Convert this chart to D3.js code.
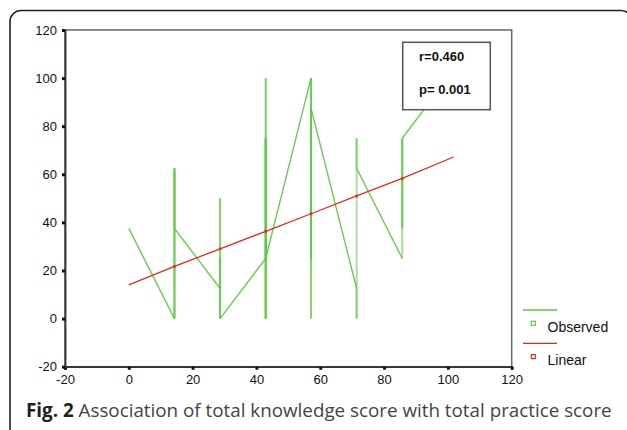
<!DOCTYPE html>
<html>
<head>
<meta charset="utf-8">
<script src="https://cdn.jsdelivr.net/npm/d3@7"></script>
<style>
  body { margin: 0; background: #fff; }
  svg { display: block; }
</style>
</head>
<body>
<div id="chart"></div>
<script>
// knowledge score (x) and practice scores observed at each x, in data order
const knowledge = [0, 14.3, 28.6, 42.9, 57.1, 71.4, 85.7, 100];
const practice = [
  [37.5],
  [0, 62.5, 0, 62.5, 37.5],
  [12.5, 50, 0, 25, 0],
  [25, 100, 0, 75, 0, 75, 25],
  [100, 0, 100, 25, 87.5],
  [12.5, 0, 75, 62.5],
  [25, 75, 37.5, 75],
  [100]
];
// linear fit
const fitX = [0, 14.3, 28.6, 42.9, 57.1, 71.4, 85.7, 101.8];
const fitY = [14, 21.7, 29, 36.3, 43.6, 51, 58.3, 67.2];

const ticks = [-20, 0, 20, 40, 60, 80, 100, 120];
const legendLabels = ['Observed', 'Linear'];
const stats = ['r=0.460', 'p= 0.001'];

const green = '#58c83c', red = '#e42a1f';

const svg = d3.select('#chart').append('svg')
  .attr('width', 627)
  .attr('height', 430);

// outer rounded frame (right and bottom edges run off the page)
svg.append('rect')
  .attr('x', 10).attr('y', 10.5)
  .attr('width', 622).attr('height', 430)
  .attr('rx', 11)
  .attr('fill', 'none')
  .attr('stroke', '#222')
  .attr('stroke-width', 1.6);

const x = d3.scaleLinear().domain([-20, 120]).range([65, 511.7]);
const y = d3.scaleLinear().domain([-20, 120]).range([366.7, 30]);

// plot frame
svg.append('rect')
  .attr('x', x(-20)).attr('y', y(120))
  .attr('width', x(120) - x(-20)).attr('height', y(-20) - y(120))
  .attr('fill', 'none')
  .attr('stroke', '#666')
  .attr('stroke-width', 1.5);

// observed: every step drawn as its own segment so overlaps look heavier
const pts = [];
knowledge.forEach((k, i) => practice[i].forEach(v => pts.push([k, v])));
const segs = d3.pairs(pts);
svg.append('g').selectAll('line')
  .data(segs)
  .enter()
  .append('line')
  .attr('x1', d => x(d[0][0]))
  .attr('y1', d => y(d[0][1]))
  .attr('x2', d => x(d[1][0]))
  .attr('y2', d => y(d[1][1]))
  .attr('stroke', green)
  .attr('stroke-width', d => d[0][0] === d[1][0] ? 1.9 : 1.4)
  .attr('stroke-opacity', d => d[0][0] === d[1][0] ? 0.55 : 0.9);

// linear fit
const fit = fitX.map((v, i) => [v, fitY[i]]);
svg.append('path')
  .datum(fit)
  .attr('d', d3.line().x(d => x(d[0])).y(d => y(d[1])))
  .attr('fill', 'none')
  .attr('stroke', red)
  .attr('stroke-width', 1.3);
svg.append('g').selectAll('circle')
  .data(fit.slice(1, -1))
  .enter()
  .append('circle')
  .attr('cx', d => x(d[0]))
  .attr('cy', d => y(d[1]))
  .attr('r', 1.5)
  .attr('fill', red);

// axes
const xAxis = svg.append('g')
  .attr('transform', `translate(0,${y(-20)})`)
  .call(d3.axisBottom(x).tickValues(ticks).tickFormat(d => String(d)).tickSize(3).tickPadding(5));
const yAxis = svg.append('g')
  .attr('transform', `translate(${x(-20)},0)`)
  .call(d3.axisLeft(y).tickValues(ticks).tickFormat(d => String(d)).tickSize(3).tickPadding(5));
[xAxis, yAxis].forEach(g => {
  g.select('.domain').attr('stroke', '#333').attr('stroke-width', 1.8);
  g.selectAll('.tick line').attr('stroke', '#111').attr('stroke-width', 3);
  g.selectAll('.tick text')
    .attr('font-family', 'Liberation Sans, Arial, sans-serif')
    .attr('font-size', 13)
    .attr('fill', '#111');
});

// stats box
svg.append('rect')
  .attr('x', 402.7).attr('y', 42.3)
  .attr('width', 87.6).attr('height', 67.4)
  .attr('fill', '#fff')
  .attr('stroke', '#555')
  .attr('stroke-width', 1.5);
svg.append('g').selectAll('text')
  .data(stats)
  .enter()
  .append('text')
  .attr('x', 419)
  .attr('y', (d, i) => 61 + i * 33)
  .attr('font-family', 'Liberation Sans, Arial, sans-serif')
  .attr('font-size', 13)
  .attr('font-weight', 'bold')
  .attr('fill', '#111')
  .text(d => d);

// legend
const legendColors = [green, red];
const lg = svg.append('g').selectAll('g')
  .data(legendLabels)
  .enter()
  .append('g')
  .attr('transform', (d, i) => `translate(0,${i * 33.3})`);
lg.append('line')
  .attr('x1', 523).attr('x2', 557)
  .attr('y1', 310).attr('y2', 310)
  .attr('stroke', (d, i) => legendColors[i])
  .attr('stroke-width', 1.3);
lg.append('rect')
  .attr('x', 531.3).attr('y', 321.3)
  .attr('width', 4).attr('height', 4)
  .attr('fill', 'none')
  .attr('stroke', (d, i) => legendColors[i])
  .attr('stroke-width', 1.2);
lg.append('text')
  .attr('x', 547.5).attr('y', 331.5)
  .attr('font-family', 'Liberation Sans, Arial, sans-serif')
  .attr('font-size', 14)
  .attr('fill', '#111')
  .text(d => d);

// caption
const cap = svg.append('text')
  .attr('x', 26).attr('y', 417)
  .attr('font-family', 'Open Sans, Noto Sans, sans-serif')
  .attr('font-size', 19)
  .attr('fill', '#444');
cap.append('tspan').attr('font-weight', 'bold').attr('fill', '#222').text('Fig. 2');
cap.append('tspan').text(' Association of total knowledge score with total practice score');
const w = cap.node().getComputedTextLength();
cap.attr('font-size', 19 * 586 / w);
</script>
</body>
</html>
